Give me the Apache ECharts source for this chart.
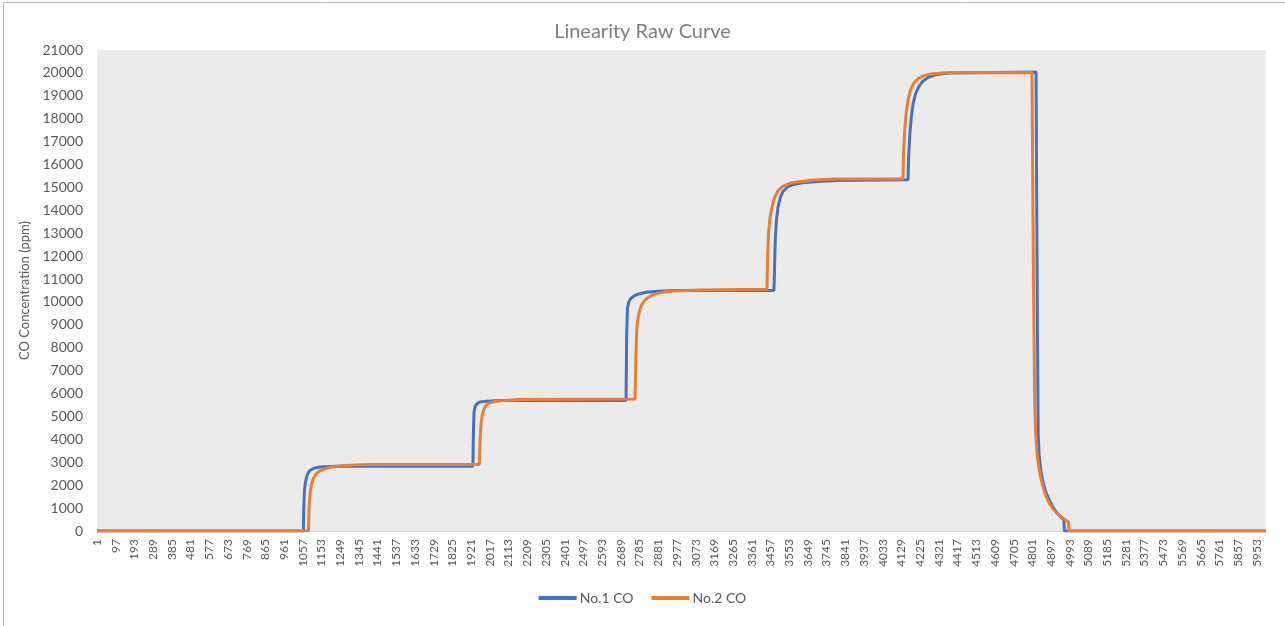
<!DOCTYPE html>
<html lang="en">
<head>
    <meta charset="UTF-8">
    <style>
        html, body { margin: 0; padding: 0; background: #fff; }
        #chart { width: 1285px; height: 626px; }
    </style>
    <script src="https://cdn.jsdelivr.net/npm/echarts@6/dist/echarts.min.js"></script>
</head>
<body>
    <div id="chart"></div>
    <script>
        // sample numbers on the x axis (1 .. 6000), one label every 96 samples
        var sampleCount = 6000;
        var samples = [];
        for (var i = 1; i <= sampleCount; i++) samples.push(String(i));

        // [sample no., ppm]
        var co1 = [
            [1, 0], [1060, 0], [1062, 1000], [1066, 1800], [1071, 2150], [1078, 2400], [1086, 2560], [1096, 2660],
            [1115, 2740], [1145, 2790], [1200, 2820], [1260, 2840],
            [1930, 2830], [1933, 4500], [1936, 5200], [1941, 5420], [1950, 5550], [1966, 5630], [2000, 5670], [2069, 5700],
            [2716, 5700], [2719, 8500], [2723, 9700], [2730, 10000], [2740, 10150], [2755, 10250], [2780, 10350],
            [2820, 10420], [2880, 10470], [2960, 10500],
            [3475, 10500], [3478, 11500], [3482, 12800], [3488, 13600], [3496, 14150], [3507, 14550], [3521, 14820],
            [3545, 15020], [3575, 15130], [3620, 15200], [3700, 15260], [3800, 15300],
            [4163, 15330], [4166, 16300], [4172, 17300], [4180, 18100], [4190, 18700], [4202, 19100], [4218, 19400],
            [4240, 19650], [4270, 19820], [4310, 19930], [4370, 20000],
            [4820, 20040], [4823, 15000], [4827, 9000], [4831, 4200], [4836, 3300], [4845, 2600], [4858, 2050],
            [4872, 1650], [4890, 1300], [4910, 1000], [4932, 750], [4950, 580], [4963, 480], [4965, 0],
            [6000, 0]
        ];
        var co2 = [
            [1, 0], [1086, 0], [1089, 1000], [1095, 1700], [1102, 2050], [1112, 2300], [1125, 2480], [1140, 2600],
            [1165, 2700], [1200, 2780], [1250, 2840], [1320, 2880], [1402, 2900],
            [1963, 2900], [1967, 4000], [1972, 4700], [1978, 5050], [1986, 5300], [1996, 5470], [2010, 5570],
            [2040, 5650], [2090, 5700], [2172, 5740],
            [2762, 5760], [2766, 7500], [2771, 8800], [2777, 9300], [2786, 9650], [2797, 9880], [2810, 10050],
            [2830, 10200], [2860, 10330], [2900, 10420], [2960, 10480], [3095, 10520],
            [3439, 10550], [3442, 11800], [3447, 13000], [3455, 13700], [3465, 14150], [3478, 14550], [3495, 14850],
            [3520, 15050], [3555, 15180], [3600, 15250], [3680, 15320], [3780, 15370],
            [4137, 15370], [4140, 16500], [4146, 17500], [4154, 18300], [4164, 18850], [4176, 19250], [4192, 19550],
            [4215, 19750], [4245, 19880], [4290, 19960], [4360, 20010],
            [4799, 20020], [4804, 14000], [4809, 9000], [4813, 5500], [4818, 4300], [4824, 3500], [4832, 2900],
            [4842, 2400], [4855, 1950], [4870, 1550], [4888, 1200], [4908, 950], [4930, 760], [4955, 580],
            [4975, 460], [4987, 390], [4989, 0],
            [6000, 0]
        ];

        var chart = echarts.init(document.getElementById('chart'));
        var font = 'Lato, "Open Sans", sans-serif';

        function toSeries(points) {
            return points.map(function (p) { return [String(p[0]), p[1]]; });
        }

        var option = {
            animation: false,
            textStyle: { fontFamily: font },
            title: {
                text: 'Linearity Raw Curve',
                left: 'center',
                top: 17,
                textStyle: { fontFamily: font, fontSize: 20, fontWeight: 'normal', color: '#7f7f7f' }
            },
            // outer chart border (top and left edges visible in the original)
            graphic: [
                { type: 'line', shape: { x1: 3, y1: 2.5, x2: 1285, y2: 2.5 }, style: { stroke: '#bfbfbf', lineWidth: 1 }, silent: true },
                { type: 'line', shape: { x1: 3.5, y1: 2, x2: 3.5, y2: 626 }, style: { stroke: '#bfbfbf', lineWidth: 1 }, silent: true }
            ],
            grid: {
                left: 97,
                right: 19,
                top: 50,
                bottom: 95,
                show: true,
                backgroundColor: '#ebebeb',
                borderWidth: 0
            },
            legend: {
                bottom: 16,
                left: 'center',
                icon: 'rect',
                itemWidth: 38,
                itemHeight: 4,
                itemGap: 18,
                textStyle: { fontFamily: font, fontSize: 14, color: '#595959', padding: [0, 0, 0, -2] },
                data: ['No.1 CO', 'No.2 CO']
            },
            xAxis: {
                type: 'category',
                data: samples,
                boundaryGap: false,
                axisLine: { lineStyle: { color: '#d9d9d9', width: 1 } },
                axisTick: { show: false },
                axisLabel: {
                    interval: 95,
                    rotate: 90,
                    color: '#595959',
                    fontSize: 12,
                    fontFamily: font,
                    margin: 8
                },
                splitLine: { show: false }
            },
            yAxis: {
                type: 'value',
                min: 0,
                max: 21000,
                interval: 1000,
                name: 'CO Concentration (ppm)',
                nameLocation: 'middle',
                nameGap: 66,
                nameTextStyle: { fontFamily: font, fontSize: 13, color: '#595959' },
                axisLine: { show: false },
                axisTick: { show: false },
                axisLabel: {
                    color: '#595959',
                    fontSize: 14,
                    fontFamily: font,
                    margin: 14,
                    formatter: function (v) { return String(v); }
                },
                splitLine: { show: false }
            },
            series: [
                {
                    name: 'No.1 CO',
                    type: 'line',
                    data: toSeries(co1),
                    showSymbol: false,
                    lineStyle: { color: '#4472c4', width: 3 },
                    itemStyle: { color: '#4472c4' }
                },
                {
                    name: 'No.2 CO',
                    type: 'line',
                    data: toSeries(co2),
                    showSymbol: false,
                    lineStyle: { color: '#ed7d31', width: 3 },
                    itemStyle: { color: '#ed7d31' }
                }
            ]
        };

        chart.setOption(option);
    </script>
</body>
</html>
